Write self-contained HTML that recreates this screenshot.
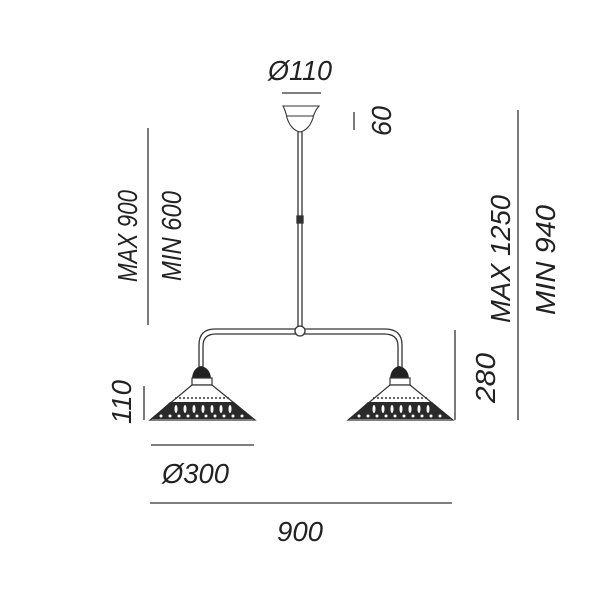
<!DOCTYPE html>
<html><head><style>
html,body{margin:0;padding:0;background:#fff;}
svg text{font-family:"Liberation Sans",sans-serif;font-style:italic;fill:#222;font-size:28px;}
</style></head><body>
<svg width="600" height="600" viewBox="0 0 600 600" xmlns="http://www.w3.org/2000/svg">
<g stroke="#333" stroke-width="1.3" fill="none">
<line x1="282" y1="93" x2="321" y2="93"/>
<line x1="354" y1="112" x2="354" y2="130"/>
<line x1="148" y1="128" x2="148" y2="325"/>
<line x1="144" y1="386" x2="144" y2="420"/>
<line x1="455" y1="330" x2="455" y2="420"/>
<line x1="518" y1="110" x2="518" y2="420"/>
<line x1="151" y1="445" x2="254" y2="445"/>
<line x1="150" y1="503" x2="452" y2="503"/>
<path d="M283 106 L319 106 Q314 112 313 118 Q309 130 300 132 Q291 130 287 118 Q286 112 283 106 Z" stroke-width="1.1"/>
<line x1="286" y1="116" x2="314" y2="116" stroke-width="1"/>
<line x1="298" y1="132" x2="298" y2="330"/>
<line x1="302" y1="132" x2="302" y2="330"/>
<rect x="297" y="216" width="6" height="7" fill="#333"/>
<path d="M199 368 L199 345 Q199 329 215 329 L385 329 Q402 329 402 345 L402 368"/>
<path d="M203 368 L203 346 Q203 334 216 334 L384 334 Q398 334 398 346 L398 368"/>
<circle cx="300" cy="331" r="5" fill="#fff"/>
</g>
<g id="lamp">
<path d="M192 378 Q193 368 201 366 Q210 368 211 378 Z" fill="#222"/>
<rect x="192" y="378" width="20" height="7" fill="#fff" stroke="#333" stroke-width="1.2"/>
<path d="M192 385 L212 385 L255 420 L150 420 Z" fill="#fff" stroke="#333" stroke-width="1.2"/>
<path d="M170 402 L234 402 L254 419 L151 419 Z" fill="#2a2a2a"/>
<g fill="#fff">
<ellipse cx="176" cy="409" rx="1.5" ry="4"/><ellipse cx="185" cy="409" rx="1.5" ry="4"/><ellipse cx="194" cy="409" rx="1.5" ry="4"/><ellipse cx="203" cy="409" rx="1.5" ry="4"/><ellipse cx="212" cy="409" rx="1.5" ry="4"/><ellipse cx="221" cy="409" rx="1.5" ry="4"/><ellipse cx="230" cy="409" rx="1.5" ry="4"/>
<circle cx="161" cy="416" r="1.5"/><circle cx="170" cy="416" r="1.5"/><circle cx="179" cy="416" r="1.5"/><circle cx="188" cy="416" r="1.5"/><circle cx="197" cy="416" r="1.5"/><circle cx="206" cy="416" r="1.5"/><circle cx="215" cy="416" r="1.5"/><circle cx="224" cy="416" r="1.5"/><circle cx="233" cy="416" r="1.5"/><circle cx="242" cy="416" r="1.5"/>
</g>
<line x1="175" y1="398" x2="229" y2="398" stroke="#333" stroke-width="1.5" stroke-dasharray="2 2"/>
</g>
<use href="#lamp" transform="translate(198,0)"/>
<text x="300" y="80" text-anchor="middle" textLength="64" lengthAdjust="spacingAndGlyphs">Ø110</text>
<text x="162" y="483" textLength="67" lengthAdjust="spacingAndGlyphs">Ø300</text>
<text x="300" y="541" text-anchor="middle" textLength="46" lengthAdjust="spacingAndGlyphs">900</text>
<text transform="translate(391,121) rotate(-90)" text-anchor="middle" textLength="30" lengthAdjust="spacingAndGlyphs">60</text>
<text transform="translate(137,236) rotate(-90)" text-anchor="middle" textLength="92" lengthAdjust="spacingAndGlyphs">MAX 900</text>
<text transform="translate(181,236) rotate(-90)" text-anchor="middle" textLength="90" lengthAdjust="spacingAndGlyphs">MIN 600</text>
<text transform="translate(131,402) rotate(-90)" text-anchor="middle" textLength="44" lengthAdjust="spacingAndGlyphs">110</text>
<text transform="translate(495,378) rotate(-90)" text-anchor="middle" textLength="50" lengthAdjust="spacingAndGlyphs">280</text>
<text transform="translate(510,259) rotate(-90)" text-anchor="middle" textLength="128" lengthAdjust="spacingAndGlyphs">MAX 1250</text>
<text transform="translate(555,260) rotate(-90)" text-anchor="middle" textLength="110" lengthAdjust="spacingAndGlyphs">MIN 940</text>
</svg>
</body></html>
